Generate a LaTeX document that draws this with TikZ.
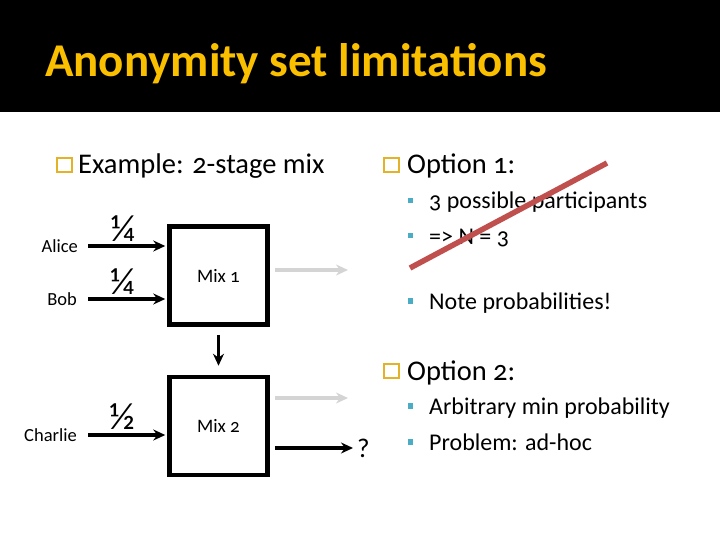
\documentclass[tikz,border=0pt]{standalone}
\usepackage{fontspec}
\setmainfont[Numbers=OldStyle]{Carlito}
\usepackage{xcolor}
\usepackage{tikz}
\usetikzlibrary{arrows.meta, positioning}

\definecolor{titlegold}{RGB}{250,192,0}
\definecolor{bulletgold}{RGB}{228,178,40}
\definecolor{bulletteal}{RGB}{75,172,198}
\definecolor{ghostgray}{RGB}{212,212,212}
\definecolor{strikered}{RGB}{192,80,77}

\begin{document}
\begin{tikzpicture}[x=1pt, y=-1pt,
    mixbox/.style={rectangle, draw, line width=4.5pt, minimum width=98pt, minimum height=98pt, font=\fontsize{19}{23}\selectfont},
    who/.style={anchor=east, inner sep=0pt, font=\fontsize{18.5}{22}\selectfont},
    frac/.style={inner sep=0pt, font=\fontsize{38}{44}\selectfont},
    topitem/.style={anchor=base west, inner sep=0pt, font=\fontsize{28.5}{34}\selectfont},
    subitem/.style={anchor=base west, inner sep=0pt, font=\fontsize{24}{29}\selectfont},
    goldbox/.style={rectangle, draw=bulletgold, line width=1.8pt, minimum size=14.5pt, inner sep=0pt},
    tealbox/.style={rectangle, fill=bulletteal, minimum size=5.5pt, inner sep=0pt},
    arrow/.style={-{Stealth[length=12pt, width=11pt]}, line width=3.6pt},
    ghost/.style={arrow, draw=ghostgray},
    strike/.style={draw=strikered, line width=5.5pt}]

    % slide frame
    \useasboundingbox (0,0) rectangle (720,540);
    \fill[black] (0,0) rectangle (720,112);
    \node (title) [anchor=base west, inner sep=0pt, text=titlegold, font=\fontsize{47}{56}\selectfont\bfseries] at (45,77) {Anonymity set limitations};

    % left column
    \node (exbox) [goldbox] at (64.5,165) {};
    \node (example) [topitem] at (78,174) {Example: 2-stage mix};

    \node (mix1) [mixbox] at (218.5,275.5) {Mix 1};
    \node (mix2) [mixbox, below=48pt of mix1] {Mix 2};

    \node (alice) [who] at (78,246) {Alice};
    \node (bob) [who] at (77,299) {Bob};
    \node (charlie) [who] at (77,435) {Charlie};

    \draw [arrow, shorten <=10pt, shorten >=2pt] (alice.east) -- node[frac, midway, yshift=17pt] {¼} (alice.east -| mix1.west);
    \draw [arrow, shorten <=11pt, shorten >=2pt] (bob.east) -- node[frac, midway, yshift=17pt] {¼} (bob.east -| mix1.west);
    \draw [arrow, shorten <=11pt, shorten >=2pt] (charlie.east) -- node[frac, midway, yshift=18pt] {½} (charlie.east -| mix2.west);
    \draw [arrow, shorten <=8pt, shorten >=9pt] (mix1) -- (mix2);

    \coordinate (out1) at (348,270);
    \coordinate (out2) at (348,398);
    \node (qmark) [anchor=west, inner sep=0pt, font=\fontsize{27}{32}\selectfont] at (357,448) {?};
    \draw [ghost, shorten <=5pt] (mix1.east |- out1) -- (out1);
    \draw [ghost, shorten <=5pt] (mix2.east |- out2) -- (out2);
    \draw [arrow, shorten <=5pt, shorten >=4pt] (mix2.east |- qmark.west) -- (qmark.west);

    % right column
    \node (opt1box) [goldbox] at (391.5,165) {};
    \node (opt1) [topitem] at (407,174) {Option 1:};
    \node (t1) [tealbox] at (410.5,200.5) {};
    \node (s1) [subitem] at (429,209) {3 possible participants};
    \node (t2) [tealbox] at (410.5,235.5) {};
    \node (s2) [subitem] at (429,244) {=> N = 3};
    \node (t3) [tealbox] at (410.5,301) {};
    \node (s3) [subitem] at (429,309.5) {Note probabilities!};

    \node (opt2box) [goldbox] at (391.5,371) {};
    \node (opt2) [topitem] at (407,380) {Option 2:};
    \node (t4) [tealbox] at (410.5,406) {};
    \node (s4) [subitem] at (429,414.5) {Arbitrary min probability};
    \node (t5) [tealbox] at (410.5,442) {};
    \node (s5) [subitem] at (429,450.5) {Problem: ad-hoc};

    % crossed out
    \draw [strike] (410,268) -- (607,163);

\end{tikzpicture}
\end{document}
